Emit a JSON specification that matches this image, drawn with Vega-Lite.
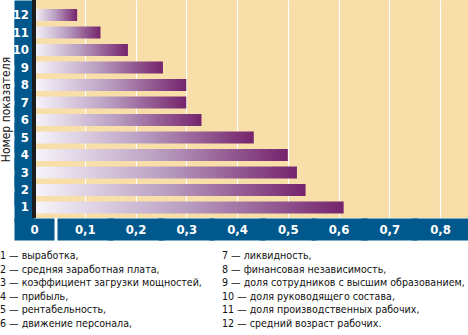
{
  "$schema": "https://vega.github.io/schema/vega-lite/v6.json",
  "width": 434,
  "height": 218,
  "autosize": {"type": "none"},
  "padding": {"left": 34, "top": 0, "right": 0, "bottom": 117},
  "background": "white",
  "config": {
    "view": {"fill": "#f8dea8", "stroke": null},
    "font": "'Liberation Sans Narrow', 'DejaVu Sans Condensed', sans-serif"
  },
  "data": {
    "values": [
      {"n": 1, "label": "выработка,", "value": 0.61},
      {"n": 2, "label": "средняя заработная плата,", "value": 0.535},
      {"n": 3, "label": "коэффициент загрузки мощностей,", "value": 0.518},
      {"n": 4, "label": "прибыль,", "value": 0.5},
      {"n": 5, "label": "рентабельность,", "value": 0.433},
      {"n": 6, "label": "движение персонала,", "value": 0.33},
      {"n": 7, "label": "ликвидность,", "value": 0.3},
      {"n": 8, "label": "финансовая независимость,", "value": 0.3},
      {"n": 9, "label": "доля сотрудников с высшим образованием,", "value": 0.254},
      {"n": 10, "label": "доля руководящего состава,", "value": 0.185},
      {"n": 11, "label": "доля производственных рабочих,", "value": 0.131},
      {"n": 12, "label": "средний возраст рабочих.", "value": 0.085}
    ]
  },
  "layer": [
    {
      "layer": [
        {
          "mark": {
            "type": "bar",
            "color": {
              "gradient": "linear",
              "x1": 0, "y1": 0, "x2": 1, "y2": 0,
              "stops": [
                {"offset": 0, "color": "#f7f5fa"},
                {"offset": 0.5, "color": "#b89cc0"},
                {"offset": 1, "color": "#75246c"}
              ]
            }
          },
          "encoding": {
            "y": {
              "field": "n",
              "type": "ordinal",
              "sort": "descending",
              "scale": {"paddingInner": 0.314, "paddingOuter": 0.386, "align": 0.667},
              "axis": {
                "title": "Номер показателя",
                "titleFontSize": 12,
                "titleFontWeight": "normal",
                "titleColor": "#111111",
                "titleX": -28.5,
                "titleY": 109,
                "titleAngle": -90,
                "titleAlign": "center",
                "titleBaseline": "middle",
                "domain": false,
                "ticks": true,
                "tickSize": 20,
                "tickWidth": 30,
                "tickColor": "#00588c",
                "labelColor": "white",
                "labelFontWeight": "bold",
                "labelFontSize": 13,
                "labelPadding": -14.5,
                "labelAngle": 0
              }
            },
            "x": {
              "field": "value",
              "type": "quantitative",
              "scale": {"domain": [0, 0.855], "nice": false},
              "axis": {
                "title": null,
                "values": [0, 0.1, 0.2, 0.3, 0.4, 0.5, 0.6, 0.7, 0.8],
                "labelExpr": "datum.value == 0 ? '0' : replace(format(datum.value, '.1f'), '.', ',')",
                "domain": false,
                "grid": true,
                "gridColor": "white",
                "gridWidth": 1.2,
                "gridOpacity": 1,
                "ticks": true,
                "tickSize": 22,
                "tickColor": "#00588c",
                "tickWidth": {"condition": {"test": "datum.value == 0", "value": 40}, "value": 56},
                "labelColor": "white",
                "labelFontWeight": "bold",
                "labelFontSize": 13,
                "labelPadding": -17,
                "labelBaseline": "top",
                "labelFlush": false
              }
            }
          }
        },
        {
          "mark": {"type": "rule", "color": "#1c1c1c", "strokeWidth": 3},
          "encoding": {"x": {"datum": 0}}
        }
      ]
    },
    {
      "transform": [
        {"calculate": "datum.n > 6 ? 1 : 0", "as": "col"},
        {"calculate": "(datum.n - 1) % 6", "as": "row"},
        {"calculate": "datum.n + ' — ' + datum.label", "as": "line"}
      ],
      "mark": {"type": "text", "align": "left", "baseline": "middle", "fontSize": 10.6, "color": "#111111"},
      "encoding": {
        "x": {"field": "col", "type": "quantitative", "scale": {"domain": [0, 1], "range": [-34, 188]}, "axis": null},
        "y": {"field": "row", "type": "quantitative", "scale": {"domain": [0, 5], "range": [256, 324]}, "axis": null},
        "text": {"field": "line"}
      }
    }
  ],
  "resolve": {"scale": {"x": "independent", "y": "independent"}}
}
